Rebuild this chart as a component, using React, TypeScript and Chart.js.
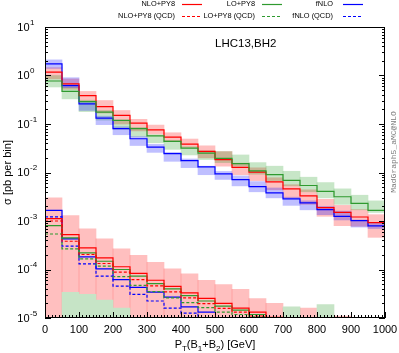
import React, { useEffect, useRef } from "react";
import { Chart, registerables } from "chart.js";
Chart.register(...registerables);

// ---- data ----
const binLo = [0, 50, 100, 150, 200, 250, 300, 350, 400, 450, 500, 550, 600, 650, 700, 750, 800, 850, 900, 950];
const BIN_WIDTH = 50;

// upper group (full)
const nloPy8 = [1.17, 0.67, 0.386, 0.229, 0.15, 0.104, 0.076, 0.0537, 0.0385, 0.0272, 0.0185, 0.0127, 0.0102, 0.0064, 0.0046, 0.0033, 0.00188, 0.00151, 0.00121, 0.00093];
const nloPy8Lo = [0.85, 0.52, 0.29, 0.168, 0.10, 0.072, 0.062, 0.044, 0.033, 0.020, 0.0135, 0.009, 0.0068, 0.0044, 0.0030, 0.0022, 0.00125, 0.0008, 0.00078, 0.00046];
const nloPy8Hi = [1.45, 0.85, 0.47, 0.305, 0.19, 0.125, 0.095, 0.066, 0.049, 0.0355, 0.027, 0.0156, 0.0125, 0.0078, 0.0056, 0.0044, 0.0028, 0.0021, 0.00172, 0.00135];

const loPy8 = [0.77, 0.47, 0.29, 0.176, 0.118, 0.08, 0.057, 0.0437, 0.0319, 0.0251, 0.0195, 0.0152, 0.0108, 0.009, 0.0069, 0.0054, 0.0041, 0.00316, 0.0023, 0.00166];
const loPy8Lo = [0.58, 0.33, 0.18, 0.12, 0.078, 0.055, 0.041, 0.030, 0.023, 0.0185, 0.016, 0.0135, 0.0092, 0.0068, 0.0053, 0.0040, 0.0030, 0.0022, 0.0017, 0.0015];
const loPy8Hi = [1.0, 0.58, 0.31, 0.19, 0.125, 0.085, 0.06, 0.046, 0.034, 0.028, 0.027, 0.023, 0.016, 0.0135, 0.0106, 0.0080, 0.0062, 0.0046, 0.0034, 0.0026];

const fnlo = [1.73, 0.62, 0.26, 0.132, 0.08, 0.0496, 0.0335, 0.0244, 0.0175, 0.013, 0.0094, 0.0071, 0.0051, 0.0038, 0.00285, 0.00236, 0.00172, 0.00125, 0.00102, 0.00079];
const fnloLo = [1.4, 0.56, 0.19, 0.097, 0.06, 0.036, 0.026, 0.017, 0.0126, 0.009, 0.0072, 0.0053, 0.0040, 0.0030, 0.0021, 0.0017, 0.00135, 0.00105, 0.00075, 0.0007];
const fnloHi = [2.1, 0.90, 0.29, 0.145, 0.088, 0.055, 0.038, 0.026, 0.019, 0.0135, 0.0105, 0.0085, 0.0065, 0.0048, 0.0031, 0.0026, 0.0020, 0.0016, 0.00105, 0.00092];

// lower group
const nloPy8Low = [1.12e-3, 5.25e-4, 2.79e-4, 1.74e-4, 1.14e-4, 8.3e-5, 6.0e-5, 4.5e-5, 3.3e-5, 2.53e-5, 2.0e-5, 1.6e-5, 1.32e-5, 1.03e-5, null, null, null, null, null, null];
const nloPy8QCD = [1.0e-3, 3.82e-4, 2.04e-4, 1.33e-4, 8.8e-5, 6.2e-5, 4.6e-5, 3.46e-5, 2.6e-5, 1.98e-5, 1.58e-5, 1.32e-5, 1.1e-5, null, null, null, null, null, null, null];
const loPy8Low = [8.0e-4, 4.49e-4, 2.2e-4, 1.48e-4, 1.0e-4, 7.3e-5, 5.1e-5, 4.0e-5, 2.9e-5, 2.24e-5, 1.76e-5, 1.45e-5, 1.18e-5, null, null, null, null, null, null, null];
const loPy8QCD = [5.4e-4, 2.67e-4, 1.66e-4, 1.17e-4, 7.1e-5, 4.7e-5, 3.5e-5, 2.6e-5, 2.07e-5, 1.63e-5, 1.32e-5, 1.18e-5, 1.05e-5, null, null, null, null, null, null, null];
const fnloLow = [1.66e-3, 4.28e-4, 1.82e-4, 1.03e-4, 6.2e-5, 4.3e-5, 3.4e-5, 2.7e-5, 1.7e-5, 1.32e-5, null, null, null, null, null, null, null, null, null, null];
const fnloQCD = [1.22e-3, 3.02e-4, 1.31e-4, 7.3e-5, 4.55e-5, 3.06e-5, 2.24e-5, 1.6e-5, 1.26e-5, 1.02e-5, null, null, null, null, null, null, null, null, null, null];

const nloLowBandLo = [1e-6, 1e-6, 1e-6, 1e-6, 1e-6, 1e-6, 1e-6, 1e-6, 1e-6, 1e-6, 1e-6, 1e-6, 1e-6, 1e-6, 1e-6, 1e-6, 1e-6, 1e-6, null, null];
const nloLowBandHi = [3.0e-3, 1.29e-3, 6.9e-4, 4.3e-4, 2.67e-4, 1.95e-4, 1.4e-4, 1.03e-4, 8.1e-5, 6.0e-5, 4.9e-5, 3.9e-5, 2.5e-5, 2.0e-5, 1.62e-5, 1.6e-5, 1.2e-5, 1.1e-5, null, null];
const loLowBandLo = [null, 1e-6, 1e-6, 1e-6, 1e-6, null, null, null, null, null, null, null, null, null, 1e-6, null, 1e-6, null, null, null];
const loLowBandHi = [null, 3.4e-5, 3.06e-5, 2.35e-5, 1.6e-5, null, null, null, null, null, null, null, null, null, 1.7e-5, null, 1.9e-5, null, null, null];

const yDecades = [-5, -4, -3, -2, -1, 0, 1];
const xTickLabels = [0, 100, 200, 300, 400, 500, 600, 700, 800, 900, 1000];

const legendRows = [
  [{ t: "NLO+PY8", c: "#ff0000" }, { t: "LO+PY8", c: "#2f9a2f" }, { t: "fNLO", c: "#0000ff" }],
  [{ t: "NLO+PY8 (QCD)", c: "#ff0000" }, { t: "LO+PY8 (QCD)", c: "#2f9a2f" }, { t: "fNLO (QCD)", c: "#0000ff" }],
];

const RED = "#ff0000";
const GREEN = "#2f9a2f";
const BLUE = "#0000ff";
const FONT = '"Liberation Sans", Arial, sans-serif';

function stepPoints(vals: (number | null)[]) {
  const pts: { x: number; y: number | null }[] = [];
  vals.forEach((v, i) => {
    if (v == null) {
      pts.push({ x: binLo[i] + BIN_WIDTH / 2, y: null });
      return;
    }
    pts.push({ x: binLo[i], y: v });
    pts.push({ x: binLo[i] + BIN_WIDTH, y: v });
  });
  return pts;
}

function bandBars(lo: (number | null)[], hi: (number | null)[]) {
  const out: { x: number; y: [number, number] }[] = [];
  lo.forEach((l, i) => {
    const h = hi[i];
    if (l == null || h == null) return;
    out.push({ x: binLo[i] + BIN_WIDTH / 2, y: [l, h] });
  });
  return out;
}

function lineDs(vals: (number | null)[], color: string, dashed: boolean) {
  return {
    type: "line" as const,
    data: stepPoints(vals),
    borderColor: color,
    borderWidth: 1.2,
    borderDash: dashed ? [3, 2] : [],
    pointRadius: 0,
    tension: 0,
    spanGaps: false,
    fill: false,
    order: 0,
  };
}

function barDs(lo: (number | null)[], hi: (number | null)[], color: string, order: number) {
  return {
    type: "bar" as const,
    data: bandBars(lo, hi),
    backgroundColor: color,
    borderWidth: 0,
    grouped: false,
    barPercentage: 1,
    categoryPercentage: 1,
    order,
  };
}

const decorPlugin = {
  id: "decor",
  afterDraw(chart: any) {
    const ctx = chart.ctx as CanvasRenderingContext2D;
    const { left, right, top, bottom } = chart.chartArea;
    const xs = chart.scales.x;
    const ys = chart.scales.y;
    ctx.save();
    // frame
    ctx.strokeStyle = "#000";
    ctx.lineWidth = 1;
    ctx.strokeRect(Math.round(left) + 0.5, Math.round(top) + 0.5, Math.round(right - left) - 1, Math.round(bottom - top) - 1);
    // y ticks
    ctx.beginPath();
    yDecades.forEach((e) => {
      const p = Math.round(ys.getPixelForValue(Math.pow(10, e))) + 0.5;
      ctx.moveTo(left, p); ctx.lineTo(left + 6, p);
      ctx.moveTo(right, p); ctx.lineTo(right - 6, p);
      if (e < 1) {
        for (let k = 2; k <= 9; k++) {
          const q = Math.round(ys.getPixelForValue(k * Math.pow(10, e))) + 0.5;
          ctx.moveTo(left, q); ctx.lineTo(left + 3, q);
          ctx.moveTo(right, q); ctx.lineTo(right - 3, q);
        }
      }
    });
    // x ticks
    for (let v = 0; v <= 1000; v += 10) {
      const p = Math.round(xs.getPixelForValue(v)) + 0.5;
      const len = v % 100 === 0 ? 6 : 3;
      ctx.moveTo(p, bottom); ctx.lineTo(p, bottom - len);
    }
    ctx.stroke();

    // y labels
    ctx.fillStyle = "#000";
    ctx.textBaseline = "middle";
    yDecades.forEach((e) => {
      const p = ys.getPixelForValue(Math.pow(10, e));
      ctx.font = `11px ${FONT}`;
      ctx.textAlign = "right";
      ctx.fillText("10", 29.5, p + 0.5);
      ctx.font = `8px ${FONT}`;
      ctx.textAlign = "left";
      ctx.fillText(e < 0 ? "-" + Math.abs(e) : String(e), 30, p - 4.5);
    });
    // x labels
    ctx.font = `11px ${FONT}`;
    ctx.textAlign = "center";
    xTickLabels.forEach((v) => {
      ctx.fillText(String(v), xs.getPixelForValue(v), 329.5);
    });

    // x title with subscripts
    const parts: [string, boolean][] = [["P", false], ["T", true], ["(B", false], ["1", true], ["+B", false], ["2", true], [") [GeV]", false]];
    const big = `11px ${FONT}`;
    const small = `8px ${FONT}`;
    let total = 0;
    parts.forEach(([t, s]) => { ctx.font = s ? small : big; total += ctx.measureText(t).width; });
    let cx = 215 - total / 2;
    ctx.textAlign = "left";
    parts.forEach(([t, s]) => {
      ctx.font = s ? small : big;
      ctx.fillText(t, cx, s ? 348.5 : 345);
      cx += ctx.measureText(t).width;
    });

    // y title
    ctx.save();
    ctx.translate(8, (top + bottom) / 2);
    ctx.rotate(-Math.PI / 2);
    ctx.font = `11px ${FONT}`;
    ctx.textAlign = "center";
    ctx.fillText("σ [pb per bin]", 0, 0);
    ctx.restore();

    // annotation
    ctx.font = `11.5px ${FONT}`;
    ctx.textAlign = "left";
    ctx.fillText("LHC13,BH2", 215, 43.5);

    // MadGraph label
    ctx.save();
    ctx.translate(393.5, 152);
    ctx.rotate(-Math.PI / 2);
    ctx.font = `8px "Liberation Mono", "DejaVu Sans Mono", monospace`;
    ctx.fillStyle = "#7a7a7a";
    ctx.textAlign = "center";
    ctx.fillText("MadGraph5_aMC@NLO", 0, 0);
    ctx.restore();

    // legend
    const textRight = [175, 255, 333];
    const lineStart = [182, 262, 343];
    const rowY = [4, 15.5];
    ctx.font = `7.4px ${FONT}`;
    legendRows.forEach((row, r) => {
      row.forEach((it, c) => {
        ctx.fillStyle = "#000";
        ctx.textAlign = "right";
        ctx.fillText(it.t, textRight[c], rowY[r]);
        ctx.strokeStyle = it.c;
        ctx.lineWidth = 1.2;
        ctx.setLineDash(r === 1 ? [3, 2] : []);
        ctx.beginPath();
        ctx.moveTo(lineStart[c], Math.round(rowY[r]) + 0.5);
        ctx.lineTo(lineStart[c] + 20, Math.round(rowY[r]) + 0.5);
        ctx.stroke();
      });
    });
    ctx.setLineDash([]);
    ctx.restore();
  },
};

export default function App() {
  const ref = useRef<HTMLCanvasElement>(null);
  useEffect(() => {
    if (!ref.current) return;
    const chart = new Chart(ref.current, {
      type: "bar",
      data: {
        datasets: [
          barDs(nloLowBandLo, nloLowBandHi, "rgba(255,0,0,0.25)", 10),
          barDs(loLowBandLo, loLowBandHi, "#c6e4c6", 9),
          barDs(nloPy8Lo, nloPy8Hi, "rgba(255,0,0,0.25)", 8),
          barDs(loPy8Lo, loPy8Hi, "rgba(0,140,0,0.22)", 7),
          barDs(fnloLo, fnloHi, "rgba(0,0,255,0.25)", 6),
          lineDs(nloPy8Low, RED, false),
          lineDs(nloPy8QCD, RED, true),
          lineDs(loPy8Low, GREEN, false),
          lineDs(loPy8QCD, GREEN, true),
          lineDs(fnloLow, BLUE, false),
          lineDs(fnloQCD, BLUE, true),
          lineDs(loPy8, GREEN, false),
          lineDs(nloPy8, RED, false),
          lineDs(fnlo, BLUE, false),
        ] as any,
      },
      options: {
        responsive: false,
        animation: false,
        layout: { padding: { left: 45, right: 14, top: 27, bottom: 35 } },
        plugins: { legend: { display: false }, tooltip: { enabled: false } },
        scales: {
          x: { type: "linear", min: 0, max: 1000, offset: false, display: false, ticks: { stepSize: 100 } },
          y: { type: "logarithmic", min: 1e-5, max: 10, display: false },
        },
      },
      plugins: [decorPlugin],
    });
    return () => chart.destroy();
  }, []);
  return (
    <div style={{ position: "fixed", left: 0, top: 0, width: 399, height: 353, background: "#fff" }}>
      <canvas ref={ref} width={399} height={353} style={{ width: 399, height: 353, display: "block" }} />
    </div>
  );
}
